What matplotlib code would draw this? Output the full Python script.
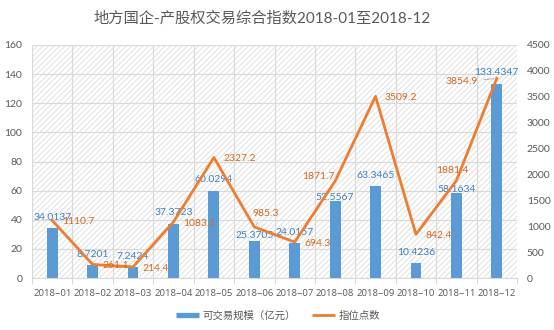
import matplotlib
matplotlib.use("Agg")
import matplotlib.pyplot as plt
from matplotlib.lines import Line2D
import numpy as np

plt.rcParams['font.family'] = ['Lato', 'Noto Sans CJK SC', 'DejaVu Sans']
plt.rcParams['hatch.linewidth'] = 0.6

# ---- data ----
categories = ["2018~01", "2018~02", "2018~03", "2018~04", "2018~05", "2018~06",
              "2018~07", "2018~08", "2018~09", "2018~10", "2018~11", "2018~12"]
scale_values = [34.0137, 8.7201, 7.2424, 37.3723, 60.0294, 25.3705,
                24.0157, 52.5567, 63.3465, 10.4236, 58.1634, 133.4347]
index_points = [1110.7, 261.1, 214.4, 1083.1, 2327.2, 985.3,
                694.3, 1871.7, 3509.2, 842.4, 1881.4, 3854.9]
scale_labels = ["34.0137", "8.7201", "7.2424", "37.3723", "60.0294", "25.3705",
                "24.0157", "52.5567", "63.3465", "10.4236", "58.1634", "133.4347"]
index_labels = ["1110.7", "261.1", "214.4", "1083.1", "2327.2", "985.3",
                "694.3", "1871.7", "3509.2", "842.4", "1881.4", "3854.9"]
title = "地方国企-产股权交易综合指数2018-01至2018-12"
bar_name = "可交易规模（亿元）"
line_name = "指位点数"

# ---- styles ----
BLUE = '#5B9BD5'
ORANGE = '#ED7D31'
BLUE_TXT = '#3F7FC4'
ORANGE_TXT = '#D2691E'
GRAY = '#595959'
GRID = '#D9D9D9'

fig = plt.figure(figsize=(5.54, 3.30), dpi=100)
ax = fig.add_axes([32/554, 1-278/330, 485/554, 233/330])
ax2 = ax.twinx()

x = np.arange(len(categories))

# hatched background
ax.patch.set_facecolor('white')
ax.patch.set_hatch('//////')
ax.patch.set_edgecolor('#DCDCDC')
ax.patch.set_linewidth(0)

ax.bar(x, scale_values, width=0.27, color=BLUE, zorder=3)
ax2.plot(x, index_points, color=ORANGE, lw=2.0, zorder=4)

ax.set_xlim(-0.5, len(categories) - 0.5)
ax.set_ylim(0, 160)
ax.set_yticks(np.arange(0, 161, 20))
ax2.set_ylim(0, 4500)
ax2.set_yticks(np.arange(0, 4501, 500))

ax.set_xticks(x)
ax.set_xticklabels(categories, family=['Open Sans', 'DejaVu Sans'])
ax.set_xticks(np.arange(-0.5, len(categories), 1), minor=True)
ax.tick_params(axis='x', which='major', length=0, pad=8, labelsize=6.8, labelcolor=GRAY)
ax.tick_params(axis='x', which='minor', length=4, color=GRID, width=0.8)
ax.tick_params(axis='y', length=0, pad=7, labelsize=7.5, labelcolor=GRAY)
ax2.tick_params(axis='y', length=0, pad=7, labelsize=7.5, labelcolor=GRAY)

ax.grid(axis='y', which='major', color=GRID, lw=0.8, zorder=1)
ax.grid(axis='x', which='minor', color=GRID, lw=0.8, zorder=1)
ax.set_axisbelow(True)

for a in (ax, ax2):
    for s in ('top', 'left', 'right'):
        a.spines[s].set_visible(False)
ax.spines['bottom'].set_color(GRID)
ax.spines['bottom'].set_linewidth(0.8)
ax2.spines['bottom'].set_visible(False)

# bar data labels (offset in points above bar top)
bar_offsets = [7.7, 7.7, 7.7, 7.7, 7.7, 4.0, 7.7, 2.6, 7.7, 7.7, 2.4, 7.7]
for i, (v, lab) in enumerate(zip(scale_values, scale_labels)):
    ax.annotate(lab, (x[i], v), xytext=(0, bar_offsets[i]), textcoords='offset points',
                ha='center', va='center', fontsize=7.5, color=BLUE_TXT, zorder=6)

# line data labels: (dx, dy, ha, leader)
line_offsets = [(7.2, -1, 'left', False), (6.8, -1, 'left', False), (6.8, -1, 'left', False),
                (6.8, -1, 'left', False), (6.8, -1, 'left', False), (8, 10, 'center', True),
                (6.8, -1, 'left', False), (0, 3, 'right', False), (6.8, -1, 'left', False),
                (6.8, -1, 'left', False), (-3, 7.6, 'center', False), (-13.3, -2.4, 'right', True)]
for i, (v, lab) in enumerate(zip(index_points, index_labels)):
    dx, dy, ha, leader = line_offsets[i]
    kw = {}
    if leader:
        kw['arrowprops'] = dict(arrowstyle='-', color='#A6A6A6', lw=0.6, shrinkA=2, shrinkB=2)
    ax2.annotate(lab, (x[i], v), xytext=(dx, dy), textcoords='offset points',
                 ha=ha, va='center', fontsize=7.5, color=ORANGE_TXT, zorder=6, **kw)

fig.text(262/554, 1-18/330, title, ha='center', va='center', fontsize=11, color=GRAY)

handles = [Line2D([0], [0], color=BLUE, lw=3.8, solid_capstyle='butt'),
           Line2D([0], [0], color=ORANGE, lw=2.0, solid_capstyle='butt')]
leg = fig.legend(handles, [bar_name, line_name], loc='center', bbox_to_anchor=(278/554, 1-315.5/330),
                 ncol=2, frameon=False, fontsize=7.5, handlelength=2.2, handletextpad=0.3,
                 columnspacing=1.6)
for t in leg.get_texts():
    t.set_color(GRAY)

fig.savefig('out.png', dpi=100)
